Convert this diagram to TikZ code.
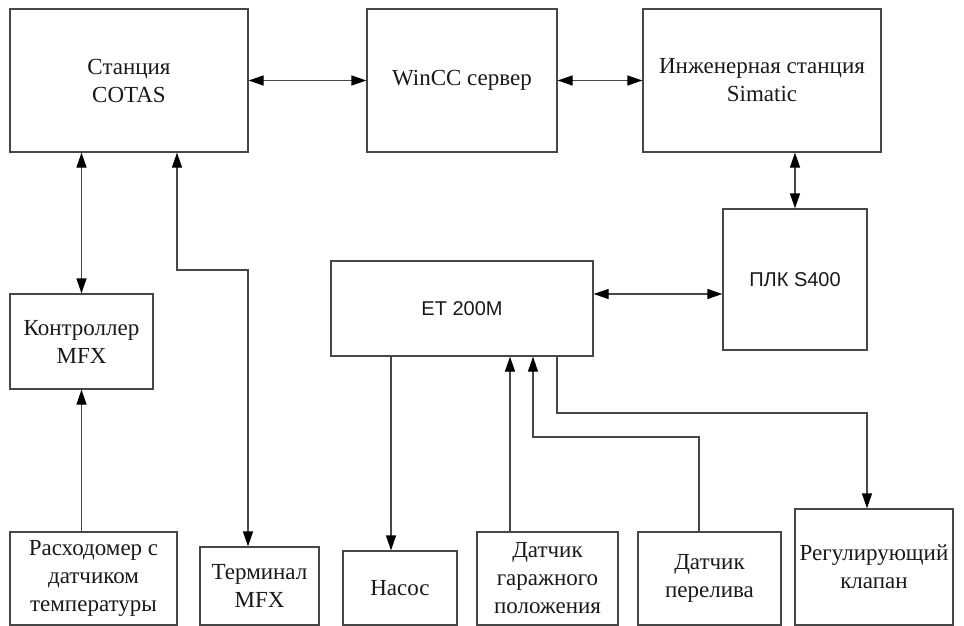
\documentclass[tikz,border=0pt]{standalone}
\usepackage{fontspec}
\setmainfont{Liberation Serif}
\setsansfont{Liberation Sans}
\usetikzlibrary{arrows.meta}

\begin{document}
\begin{tikzpicture}[x=1pt,y=-1pt,
    >={Triangle[length=15pt,width=10pt,color=black]},
    blk/.style={draw=black!72,line width=1.3pt,align=center,inner sep=2pt,
      text=black!90,font=\fontsize{23}{28}\selectfont},
    sblk/.style={blk,font=\sffamily\fontsize{20}{24}\selectfont},
    wire/.style={draw=black!72,line width=1.3pt}]
   \useasboundingbox (0,0) rectangle (964,626);
   % stations
   \node[blk,minimum width=238pt,minimum height=143pt] (cotas) at (129,80.5) {Станция\\COTAS};
   \node[blk,minimum width=190pt,minimum height=143pt] (wincc) at (462,80.5) {WinCC сервер};
   \node[blk,minimum width=238pt,minimum height=143pt] (simatic) at (762,80.5) {Инженерная станция\\Simatic};
   \node[sblk,minimum width=144pt,minimum height=141pt] (plc) at (795,279.5) {ПЛК S400};
   \node[sblk,minimum width=262pt,minimum height=95pt] (et) at (462,308.5) {ET 200M};
   \node[blk,minimum width=143pt,minimum height=95pt] (mfx) at (81.5,341.5) {Контроллер\\MFX};
   % field devices
   \node[blk,minimum width=167pt,minimum height=93pt] (flow) at (93.5,578.5) {Расходомер с\\датчиком\\температуры};
   \node[blk,minimum width=119pt,minimum height=78pt] (term) at (259.5,586) {Терминал\\MFX};
   \node[blk,minimum width=114pt,minimum height=74pt] (pump) at (400,588) {Насос};
   \node[blk,minimum width=141pt,minimum height=93pt] (park) at (547.5,578.5) {Датчик\\гаражного\\положения};
   \node[blk,minimum width=143pt,minimum height=93pt] (over) at (709.5,578.5) {Датчик\\перелива};
   \node[blk,minimum width=158pt,minimum height=116pt] (valve) at (874,567) {Регулирующий\\клапан};
   \coordinate (tbend) at (177,270);
   \coordinate (vbend) at (557,413);
   \coordinate (obend) at (533,437);
   % links
   \draw[wire,<->] (cotas) -- (wincc);
   \draw[wire,<->] (wincc) -- (simatic);
   \draw[wire,<->] (plc.north |- simatic.south) -- (plc.north);
   \draw[wire,<->] ([yshift=14.5pt]et.east) -- ([yshift=14.5pt]et.east -| plc.west);
   \draw[wire,<->] (mfx.north |- cotas.south) -- (mfx.north);
   \draw[wire,->] (flow.north -| mfx.south) -- (mfx.south);
   \draw[wire,<->] ([xshift=-11.5pt]term.north) |- (tbend) -- (tbend |- cotas.south);
   \draw[wire,->] ([xshift=-9pt]pump.north |- et.south) -- ([xshift=-9pt]pump.north);
   \draw[wire,->] ([xshift=-37.5pt]park.north) -- ([xshift=-37.5pt]park.north |- et.south);
   \draw[wire,->] ([xshift=-10.5pt]over.north) |- (obend) -- (obend |- et.south);
   \draw[wire,->] (vbend |- et.south) -- (vbend) -| ([xshift=-7pt]valve.north);
  \end{tikzpicture}
\end{document}
